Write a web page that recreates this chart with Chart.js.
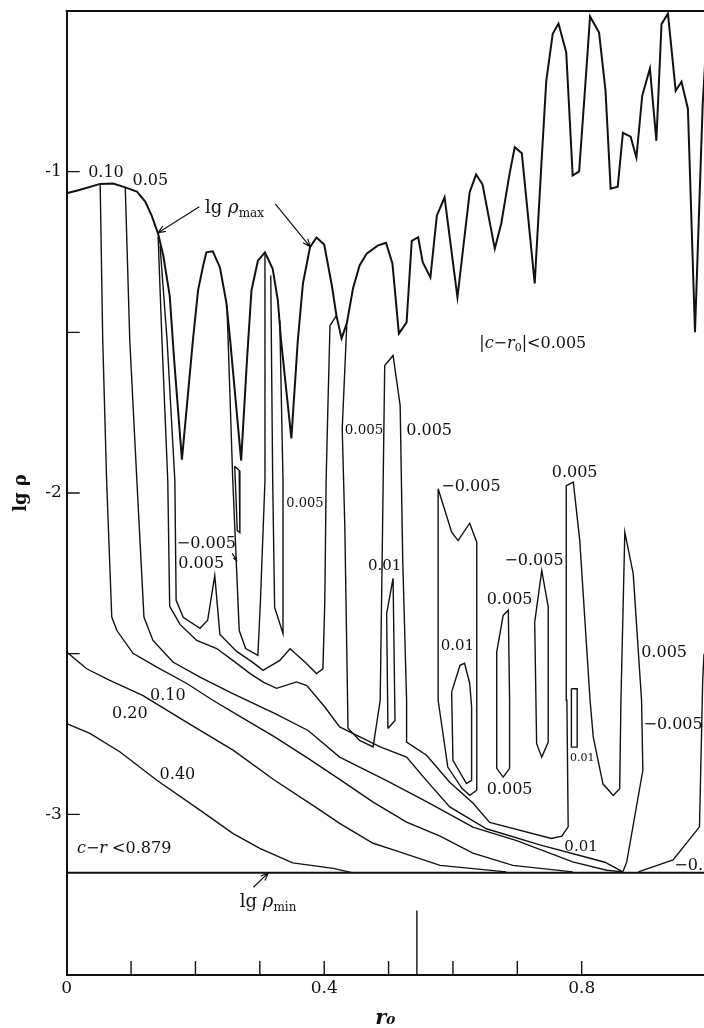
<!DOCTYPE html>
<html>
<head>
<meta charset="utf-8">
<script src="https://cdn.jsdelivr.net/npm/chart.js@4.4.1/dist/chart.umd.min.js"></script>
<style>
  html, body { margin: 0; padding: 0; background: #fff; overflow: hidden; }
</style>
</head>
<body>
<canvas id="chart" width="704" height="1028"></canvas>
<script>
// r0 / lg rho pairs
const lgRhoMax = [[0,-1.067],[0.021,-1.056],[0.052,-1.038],[0.072,-1.037],[0.091,-1.049],[0.109,-1.062],[0.122,-1.093],[0.132,-1.137],[0.142,-1.193],[0.150,-1.261],[0.160,-1.386],[0.167,-1.588],[0.179,-1.896],[0.196,-1.526],[0.204,-1.370],[0.212,-1.292],[0.217,-1.251],[0.227,-1.248],[0.238,-1.298],[0.248,-1.407],[0.254,-1.526],[0.271,-1.899],[0.280,-1.588],[0.287,-1.370],[0.297,-1.277],[0.308,-1.251],[0.320,-1.302],[0.328,-1.401],[0.333,-1.526],[0.349,-1.830],[0.359,-1.526],[0.367,-1.348],[0.378,-1.235],[0.388,-1.205],[0.400,-1.227],[0.412,-1.355],[0.419,-1.448],[0.427,-1.519],[0.435,-1.473],[0.445,-1.361],[0.455,-1.292],[0.466,-1.255],[0.483,-1.230],[0.496,-1.221],[0.506,-1.286],[0.516,-1.504],[0.528,-1.469],[0.536,-1.215],[0.546,-1.204],[0.553,-1.282],[0.565,-1.329],[0.575,-1.137],[0.587,-1.080],[0.607,-1.391],[0.626,-1.064],[0.636,-1.009],[0.646,-1.040],[0.665,-1.240],[0.675,-1.162],[0.688,-1.006],[0.696,-0.924],[0.707,-0.943],[0.727,-1.348],[0.738,-0.956],[0.745,-0.717],[0.755,-0.571],[0.764,-0.539],[0.776,-0.629],[0.786,-1.012],[0.796,-0.999],[0.805,-0.748],[0.813,-0.517],[0.827,-0.567],[0.837,-0.748],[0.845,-1.053],[0.856,-1.047],[0.864,-0.879],[0.876,-0.891],[0.885,-0.956],[0.894,-0.764],[0.906,-0.679],[0.916,-0.904],[0.924,-0.541],[0.934,-0.508],[0.946,-0.748],[0.955,-0.720],[0.965,-0.804],[0.976,-1.500],[0.988,-0.789],[0.995,-0.55]];

const c010 = [[0.052,-1.038],[0.056,-1.526],[0.062,-1.961],[0.070,-2.386],[0.078,-2.428],[0.103,-2.499],[0.140,-2.542],[0.186,-2.592],[0.227,-2.645],[0.269,-2.695],[0.323,-2.759],[0.375,-2.826],[0.424,-2.891],[0.476,-2.962],[0.528,-3.024],[0.580,-3.068],[0.631,-3.121],[0.693,-3.159],[0.786,-3.179]];
const c005 = [[0.091,-1.049],[0.098,-1.526],[0.109,-1.961],[0.120,-2.386],[0.134,-2.459],[0.165,-2.526],[0.207,-2.573],[0.258,-2.624],[0.323,-2.686],[0.375,-2.739],[0.424,-2.822],[0.497,-2.895],[0.564,-2.966],[0.631,-3.040],[0.699,-3.082],[0.786,-3.148],[0.839,-3.174],[0.864,-3.179]];
const c020 = [[0,-2.495],[0.031,-2.547],[0.067,-2.583],[0.118,-2.630],[0.186,-2.713],[0.259,-2.801],[0.323,-2.894],[0.386,-2.977],[0.424,-3.028],[0.476,-3.090],[0.510,-3.112],[0.580,-3.159],[0.683,-3.179]];
const c040 = [[0,-2.718],[0.036,-2.748],[0.083,-2.806],[0.140,-2.894],[0.207,-2.987],[0.258,-3.059],[0.300,-3.106],[0.351,-3.151],[0.414,-3.168],[0.445,-3.182]];

const spike005 = [[0.145,-1.230],[0.156,-1.526],[0.168,-1.961],[0.170,-2.334],[0.181,-2.387],[0.207,-2.421],[0.219,-2.396],[0.230,-2.257],[0.238,-2.440],[0.264,-2.493],[0.289,-2.527],[0.305,-2.552],[0.331,-2.521],[0.347,-2.485],[0.370,-2.526],[0.388,-2.562],[0.398,-2.547],[0.401,-2.334],[0.403,-1.961],[0.406,-1.712],[0.409,-1.479],[0.419,-1.448]];
const line001 = [[0.142,-1.202],[0.148,-1.526],[0.157,-1.961],[0.160,-2.353],[0.176,-2.409],[0.202,-2.459],[0.233,-2.484],[0.258,-2.521],[0.285,-2.562],[0.306,-2.589],[0.326,-2.608],[0.357,-2.588],[0.373,-2.599],[0.401,-2.666],[0.424,-2.728],[0.487,-2.790],[0.528,-2.822],[0.559,-2.895],[0.595,-2.977],[0.652,-3.045],[0.735,-3.095],[0.797,-3.128],[0.836,-3.149],[0.864,-3.179]];

const pocketA = [[0.249,-1.417],[0.258,-1.961],[0.268,-2.428],[0.278,-2.484],[0.297,-2.505],[0.301,-2.334],[0.308,-1.961],[0.308,-1.252]];
const pocketB = [[0.317,-1.323],[0.320,-1.961],[0.323,-2.356],[0.336,-2.437],[0.336,-1.961],[0.331,-1.464]];
const sliver = [[0.261,-1.917],[0.268,-1.930],[0.269,-2.123],[0.265,-2.117],[0.261,-1.917]];

const bigContour = [[0.435,-1.480],[0.428,-1.800],[0.432,-2.100],[0.437,-2.732],[0.455,-2.770],[0.476,-2.790],[0.487,-2.645],[0.490,-2.210],[0.494,-1.603],[0.507,-1.572],[0.518,-1.728],[0.522,-2.210],[0.528,-2.645],[0.528,-2.775],[0.559,-2.816],[0.595,-2.900],[0.631,-2.965],[0.657,-3.025],[0.753,-3.075],[0.769,-3.068],[0.779,-3.039],[0.777,-2.645],[0.776,-1.977],[0.787,-1.966],[0.797,-2.148],[0.813,-2.645],[0.818,-2.760],[0.833,-2.905],[0.849,-2.941],[0.859,-2.920],[0.861,-2.645],[0.867,-2.122],[0.880,-2.251],[0.893,-2.645],[0.895,-2.863],[0.870,-3.148],[0.864,-3.179]];
const spike001 = [[0.499,-2.733],[0.497,-2.375],[0.507,-2.266],[0.510,-2.708],[0.499,-2.733]];
const negRegion = [[0.577,-1.987],[0.598,-2.122],[0.608,-2.148],[0.626,-2.094],[0.637,-2.153],[0.637,-2.645],[0.637,-2.925],[0.626,-2.941],[0.614,-2.919],[0.592,-2.853],[0.577,-2.645],[0.577,-1.987]];
const pocket001 = [[0.598,-2.619],[0.611,-2.536],[0.618,-2.530],[0.626,-2.592],[0.629,-2.666],[0.629,-2.894],[0.621,-2.904],[0.600,-2.832],[0.598,-2.619]];
const pocket005 = [[0.668,-2.495],[0.678,-2.381],[0.686,-2.365],[0.688,-2.645],[0.688,-2.857],[0.678,-2.884],[0.668,-2.857],[0.668,-2.495]];
const negPocket = [[0.727,-2.402],[0.738,-2.241],[0.748,-2.355],[0.748,-2.775],[0.738,-2.822],[0.730,-2.780],[0.727,-2.402]];
const rect001 = [[0.784,-2.609],[0.793,-2.609],[0.793,-2.791],[0.784,-2.791],[0.784,-2.609]];
const rightLine = [[0.888,-3.179],[0.942,-3.142],[0.983,-3.039],[0.988,-2.583],[0.99,-2.50]];

const lgRhoMin = [[0,-3.182],[0.99,-3.182]];
const markR0 = [[0.544,-3.5],[0.544,-3.299]];

const contourLabels = [
  { text: '0.10', r0: 0.061, lg: -1.005, size: 16 },
  { text: '0.05', r0: 0.130, lg: -1.030, size: 16 },
  { text: '0.005', r0: 0.462, lg: -1.806, size: 13.5 },
  { text: '0.005', r0: 0.563, lg: -1.806, size: 16 },
  { text: '0.005', r0: 0.370, lg: -2.033, size: 13 },
  { text: '−0.005', r0: 0.628, lg: -1.980, size: 16 },
  { text: '0.005', r0: 0.789, lg: -1.936, size: 16 },
  { text: '−0.005', r0: 0.217, lg: -2.157, size: 16 },
  { text: '0.005', r0: 0.209, lg: -2.219, size: 16 },
  { text: '0.01', r0: 0.494, lg: -2.229, size: 15 },
  { text: '−0.005', r0: 0.726, lg: -2.210, size: 16 },
  { text: '0.005', r0: 0.688, lg: -2.334, size: 16 },
  { text: '0.01', r0: 0.607, lg: -2.477, size: 15 },
  { text: '0.005', r0: 0.928, lg: -2.496, size: 16 },
  { text: '−0.005', r0: 0.942, lg: -2.720, size: 16 },
  { text: '0.01', r0: 0.801, lg: -2.826, size: 11 },
  { text: '0.005', r0: 0.688, lg: -2.925, size: 16 },
  { text: '0.01', r0: 0.799, lg: -3.102, size: 15 },
  { text: '−0.01', r0: 0.982, lg: -3.160, size: 16 },
  { text: '0.10', r0: 0.157, lg: -2.630, size: 16 },
  { text: '0.20', r0: 0.098, lg: -2.686, size: 16 },
  { text: '0.40', r0: 0.172, lg: -2.876, size: 16 },
];

const arrows = [
  [0.206, -1.109, 0.142, -1.190, 8],
  [0.324, -1.100, 0.378, -1.233, 8],
  [0.257, -2.188, 0.264, -2.210, 4],
  [0.290, -3.227, 0.313, -3.183, 8],
];

const SERIF = '"DejaVu Serif", "Liberation Serif", serif';
const INK = '#111';

const contours = [
  { pts: lgRhoMax, w: 2 },
  { pts: c010, w: 1.4 }, { pts: c005, w: 1.4 }, { pts: c020, w: 1.4 }, { pts: c040, w: 1.4 },
  { pts: spike005, w: 1.4 }, { pts: line001, w: 1.4 },
  { pts: pocketA, w: 1.4 }, { pts: pocketB, w: 1.4 }, { pts: sliver, w: 1.4 },
  { pts: bigContour, w: 1.4 }, { pts: spike001, w: 1.4 }, { pts: negRegion, w: 1.4 },
  { pts: pocket001, w: 1.4 }, { pts: pocket005, w: 1.4 }, { pts: negPocket, w: 1.4 },
  { pts: rect001, w: 1.4 }, { pts: rightLine, w: 1.4 },
  { pts: lgRhoMin, w: 2 }, { pts: markR0, w: 1.4 },
];

function drawParts(ctx, x, y, parts, align) {
  let w = 0;
  parts.forEach((p) => { ctx.font = p[1]; w += ctx.measureText(p[0]).width; });
  let cx = align === 'center' ? x - w / 2 : x;
  ctx.textAlign = 'left';
  parts.forEach((p) => {
    ctx.font = p[1];
    ctx.fillText(p[0], cx, y + (p[2] || 0));
    cx += ctx.measureText(p[0]).width;
  });
}

function drawArrow(ctx, x1, y1, x2, y2, head) {
  const a = Math.atan2(y2 - y1, x2 - x1);
  ctx.beginPath();
  ctx.moveTo(x1, y1);
  ctx.lineTo(x2, y2);
  ctx.moveTo(x2 - head * Math.cos(a - 0.4), y2 - head * Math.sin(a - 0.4));
  ctx.lineTo(x2, y2);
  ctx.lineTo(x2 - head * Math.cos(a + 0.4), y2 - head * Math.sin(a + 0.4));
  ctx.stroke();
}

const decor = {
  id: 'decor',
  afterDatasetsDraw(chart) {
    const { ctx, chartArea: { left, right, top, bottom }, scales: { x, y } } = chart;
    ctx.save();
    ctx.strokeStyle = INK;
    ctx.fillStyle = INK;

    // top frame line
    ctx.lineWidth = 2;
    ctx.beginPath();
    ctx.moveTo(left - 1, top);
    ctx.lineTo(right, top);
    ctx.stroke();

    // inward ticks
    ctx.lineWidth = 1.4;
    ctx.beginPath();
    x.ticks.forEach((t) => {
      const r = Math.round(t.value * 10);
      if (r > 0 && Math.abs(t.value * 10 - r) < 1e-6) {
        const px = x.getPixelForValue(t.value);
        ctx.moveTo(px, bottom);
        ctx.lineTo(px, bottom - 14);
      }
    });
    y.ticks.forEach((t) => {
      if (t.value > -3.49 && t.value < -0.51) {
        const py = y.getPixelForValue(t.value);
        ctx.moveTo(left, py);
        ctx.lineTo(left + 13, py);
      }
    });
    ctx.stroke();

    // contour labels
    ctx.textBaseline = 'middle';
    ctx.textAlign = 'center';
    contourLabels.forEach((l) => {
      ctx.font = `${l.size}px ${SERIF}`;
      ctx.fillText(l.text, x.getPixelForValue(l.r0), y.getPixelForValue(l.lg));
    });

    const f = (s, style) => `${style || ''} ${s}px ${SERIF}`;
    drawParts(ctx, x.getPixelForValue(0.215), y.getPixelForValue(-1.115),
      [['lg ', f(18)], ['ρ', f(18, 'italic')], ['max', f(12), 5]], 'left');
    drawParts(ctx, x.getPixelForValue(0.269), y.getPixelForValue(-3.274),
      [['lg ', f(18)], ['ρ', f(18, 'italic')], ['min', f(12), 5]], 'left');
    drawParts(ctx, x.getPixelForValue(0.724), y.getPixelForValue(-1.535),
      [['|', f(16)], ['c', f(16, 'italic')], ['−', f(16)], ['r', f(16, 'italic')], ['0', f(11), 5], ['|<0.005', f(16)]], 'center');
    drawParts(ctx, x.getPixelForValue(0.016), y.getPixelForValue(-3.106),
      [['c', f(16, 'italic')], ['−', f(16)], ['r', f(16, 'italic')], [' <0.879', f(16)]], 'left');

    ctx.lineWidth = 1.2;
    arrows.forEach((a) => {
      drawArrow(ctx, x.getPixelForValue(a[0]), y.getPixelForValue(a[1]),
        x.getPixelForValue(a[2]), y.getPixelForValue(a[3]), a[4]);
    });
    ctx.restore();
  },
};

new Chart(document.getElementById('chart'), {
  type: 'scatter',
  data: {
    datasets: contours.map((c) => ({
      data: c.pts.map((p) => ({ x: p[0], y: p[1] })),
      showLine: true,
      borderColor: INK,
      borderWidth: c.w,
      pointRadius: 0,
      pointHoverRadius: 0,
      fill: false,
      tension: 0,
    })),
  },
  options: {
    responsive: false,
    animation: false,
    events: [],
    layout: { autoPadding: false, padding: { top: 11, left: 0, right: 0, bottom: 0 } },
    plugins: { legend: { display: false }, tooltip: { enabled: false } },
    scales: {
      x: {
        type: 'linear',
        min: 0,
        max: 0.99,
        afterFit: (scale) => {
          scale.height = 53;
          scale.paddingLeft = 0;
          scale.paddingRight = 0;
        },
        grid: { display: false, drawTicks: false },
        border: { display: true, color: INK, width: 2 },
        ticks: {
          stepSize: 0.1,
          autoSkip: false,
          maxRotation: 0,
          padding: 3,
          color: INK,
          font: { family: SERIF, size: 17 },
          callback: function (val) {
            const r = Math.round(val * 10);
            if (Math.abs(val * 10 - r) > 1e-6) return '';
            return r === 0 || r === 4 || r === 8 ? String(r / 10) : '';
          },
        },
        title: {
          display: true,
          text: 'r₀',
          color: INK,
          font: { family: SERIF, size: 21, weight: 'bold', style: 'italic' },
          padding: { top: 0, bottom: -3 },
        },
      },
      y: {
        type: 'linear',
        min: -3.5,
        max: -0.5,
        afterFit: (scale) => {
          scale.width = 66.7;
          scale.paddingTop = 0;
          scale.paddingBottom = 0;
        },
        grid: { display: false, drawTicks: false },
        border: { display: true, color: INK, width: 2 },
        ticks: {
          stepSize: 0.5,
          padding: 5,
          color: INK,
          font: { family: SERIF, size: 17 },
          callback: function (val) {
            if (Number.isInteger(val) && val > -3.5 && val < -0.5) return '-' + Math.abs(val);
            return '';
          },
        },
        title: {
          display: true,
          text: 'lg ρ',
          color: INK,
          font: { family: SERIF, size: 18, weight: 'bold' },
          padding: { top: 11, bottom: 0 },
        },
      },
    },
  },
  plugins: [decor],
});
</script>
</body>
</html>
